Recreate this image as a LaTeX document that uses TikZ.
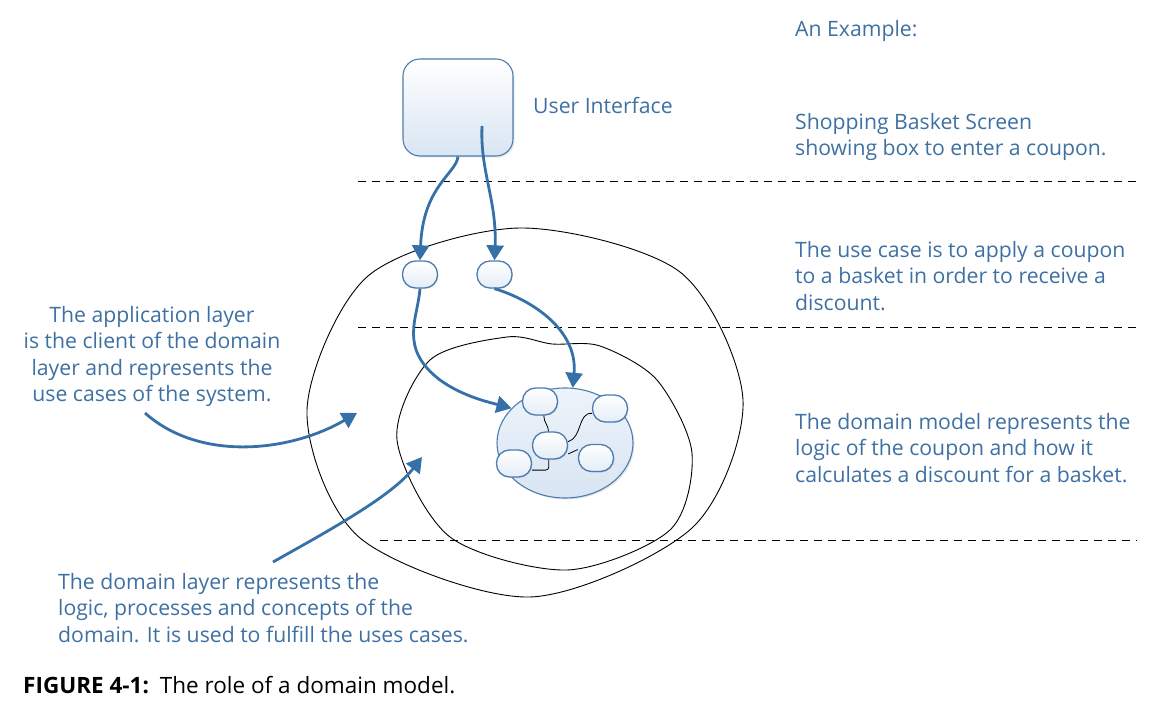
\documentclass[tikz,border=0pt]{standalone}
\usepackage{fontspec}
\setmainfont{Open Sans}
\usetikzlibrary{positioning,arrows.meta,shapes.geometric,shadows}
\definecolor{txtblue}{RGB}{62,112,163}
\definecolor{arrblue}{RGB}{54,112,168}
\definecolor{boxline}{RGB}{78,124,176}
\definecolor{boxfill}{RGB}{216,229,243}
\begin{document}
\begin{tikzpicture}[x=1pt, y=-1pt,
	txt/.style = {text=txtblue, font=\fontsize{21.2}{26.5}\selectfont, inner sep=0, anchor=north west, align=left},
	ui/.style = {draw=boxline, line width=1.1pt, rounded corners=17pt, minimum width=110pt, minimum height=97pt, top color=white, bottom color=boxfill, drop shadow={opacity=0.2, shadow xshift=1.5pt, shadow yshift=-1.5pt}},
	obj/.style = {draw=boxline, line width=1.3pt, rounded corners=13pt, minimum width=35pt, minimum height=27pt, inner sep=0, top color=white, bottom color=boxfill!70, drop shadow={opacity=0.2, shadow xshift=1pt, shadow yshift=-1pt}},
	cluster/.style = {ellipse, draw=boxline, line width=1.1pt, minimum width=136pt, minimum height=110pt, top color=boxfill!45, bottom color=boxfill, drop shadow={opacity=0.2, shadow xshift=1.5pt, shadow yshift=-1.5pt}},
	flow/.style = {draw=arrblue, line width=2.8pt, -{Triangle[width=17pt,length=15pt]}},
	wire/.style = {draw=black, line width=0.8pt},
	layer/.style = {draw=black, line width=0.9pt},
	sep/.style = {draw=black, line width=0.9pt, dash pattern=on 8pt off 6pt}]
	\useasboundingbox (0,0) rectangle (1163,711);

	\draw[sep] (358,181) -- (1137,181);
	\draw[sep] (358,327) -- (1137,327);
	\draw[sep] (380,540) -- (1137,540);

	\draw[layer] plot[smooth cycle] coordinates {(520,228) (680,272) (743,400) (692,528) (530,597) (360,538) (307,410) (368,276)};
	\draw[layer] plot[smooth cycle, tension=0.5] coordinates {(507,337) (552,344) (600,346) (657,380) (692,453) (670,530) (567,570) (450,537) (397,440) (430,360)};

	\node[ui] (ui) at (458,107.5) {};
	\coordinate (uiport) at (482,126);
	\node[obj] (appA) at (420,274.5) {};
	\node[obj] (appB) at (494.5,274.5) {};

	\node[cluster] (model) at (565,443) {};
	\node[obj] (mA) at (540,401.5) {};
	\node[obj] (mB) at (610,408.5) {};
	\node[obj] (mC) at (550,445.5) {};
	\node[obj] (mD) at (514,463.5) {};
	\node[obj] (mE) at (596,458) {};

	\draw[wire] (mA.-75) .. controls +(0,7) and +(0,-6) .. (mC.96);
	\draw[wire, rounded corners=3pt] (mD.-20) -| (mC.-95);
	\draw[wire] (mC.12) .. controls (582,438) and (578,412) .. (mB.195);
	\draw[wire] (mC.-25) -- (mE.155);

	\draw[flow] (ui.south) .. controls (456,174) and (423,186) .. (appA.north);
	\draw[flow] (uiport) .. controls (480,172) and (497,200) .. (appB.north);
	\draw[flow] (appA.south) .. controls (418,318) and (398,348) .. (440,380) .. controls (462,396) and (488,402) .. (model.147);
	\draw[flow] (appB.south) .. controls (532,300) and (578,330) .. (model.82);

	\node[txt, anchor=base west] (uitext) at (533,114) {User Interface};
	\node[txt, anchor=base west] (example) at (795,37) {An Example:};
	\node[txt] (screen) at (795,113) {Shopping Basket Screen\\showing box to enter a coupon.};
	\node[txt] (usecase) at (795,241) {The use case is to apply a coupon\\to a basket in order to receive a\\discount.};
	\node[txt] (dommodel) at (795,413) {The domain model represents the\\logic of the coupon and how it\\calculates a discount for a basket.};
	\node[txt, anchor=north, align=center] (applayer) at (152,306) {The application layer\\is the client of the domain\\layer and represents the\\use cases of the system.};
	\node[txt] (domlayer) at (58,573) {The domain layer represents the\\logic, processes and concepts of the\\domain. It is used to fulfill the uses cases.};
	\node[inner sep=0, anchor=base west, font=\fontsize{22.5}{26}\selectfont] (caption) at (23,693) {\textbf{FIGURE 4-1:}\hspace{11pt}The role of a domain model.};

	\coordinate (apptip) at (357,413);
	\coordinate (domtip) at (422,457);
	\draw[flow] (145,413) coordinate (appfoot) .. controls (200,462) and (290,452) .. (apptip);
	\draw[flow] (273,562) coordinate (domfoot) .. controls (330,530) and (392,496) .. (domtip);
\end{tikzpicture}
\end{document}
